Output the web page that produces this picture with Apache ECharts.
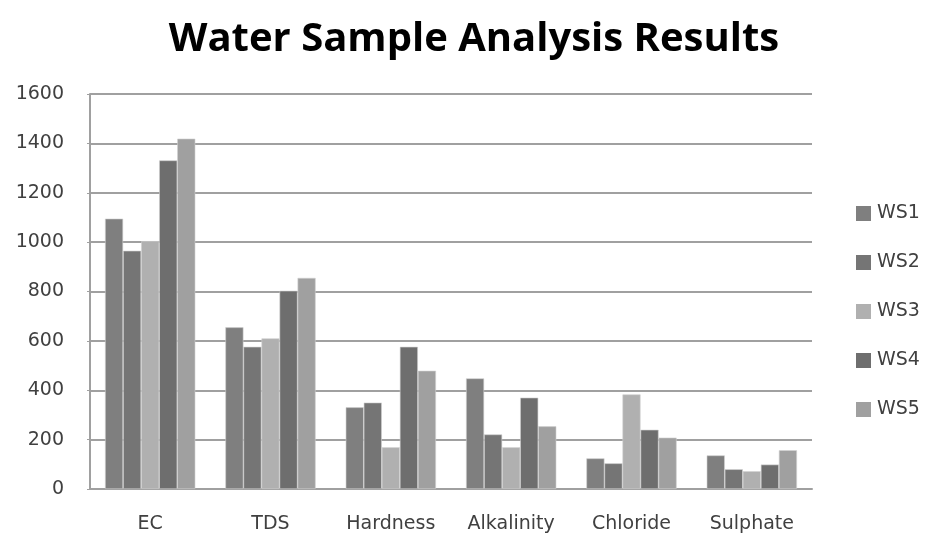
<!DOCTYPE html>
<html>
<head>
<meta charset="utf-8">
<script src="https://cdn.jsdelivr.net/npm/echarts@6/dist/echarts.min.js"></script>
<style>
  html, body { margin: 0; padding: 0; background: #ffffff; }
  #chart { width: 929px; height: 535px; }
</style>
</head>
<body>
<div id="chart"></div>
<script>
// Parameters measured for each water sample
const categories = ['EC', 'TDS', 'Hardness', 'Alkalinity', 'Chloride', 'Sulphate'];
const ws1 = [1095, 655, 331, 448, 124, 136];
const ws2 = [965, 576, 350, 221, 104, 80];
const ws3 = [1004, 610, 169, 169, 383, 72];
const ws4 = [1331, 803, 576, 370, 240, 99];
const ws5 = [1419, 855, 479, 254, 208, 157];
const sampleNames = ['WS1', 'WS2', 'WS3', 'WS4', 'WS5'];
const yTicks = [0, 200, 400, 600, 800, 1000, 1200, 1400, 1600];

const seriesData = [ws1, ws2, ws3, ws4, ws5];
const colors = ['#7f7f7f', '#757575', '#b0b0b0', '#6e6e6e', '#a0a0a0'];
const labelFont = 'DejaVu Sans';

const chart = echarts.init(document.getElementById('chart'), null, { renderer: 'canvas' });

chart.setOption({
  animation: false,
  backgroundColor: '#ffffff',
  title: {
    text: 'Water Sample Analysis Results',
    left: 469,
    textAlign: 'center',
    top: 15,
    textStyle: { fontFamily: 'Open Sans', fontWeight: 'bold', fontSize: 40, color: '#000000' }
  },
  legend: {
    orient: 'vertical',
    left: 851,
    top: 199,
    itemWidth: 15,
    itemHeight: 15,
    itemGap: 30,
    icon: 'rect',
    itemStyle: { borderWidth: 0 },
    data: sampleNames,
    textStyle: { fontFamily: labelFont, fontSize: 19, color: '#404040', padding: [0, 0, 0, 1] }
  },
  grid: { left: 90, right: 117, top: 94, bottom: 46, containLabel: false },
  xAxis: {
    type: 'category',
    data: categories,
    axisLine: { show: true, lineStyle: { color: '#a0a0a0', width: 2 } },
    axisTick: { show: false },
    axisLabel: { interval: 0, fontFamily: labelFont, fontSize: 19, color: '#404040', margin: 26 }
  },
  yAxis: {
    type: 'value',
    min: yTicks[0],
    max: yTicks[yTicks.length - 1],
    interval: 200,
    axisLine: { show: true, lineStyle: { color: '#a0a0a0', width: 2 } },
    axisTick: { show: true, length: 3, lineStyle: { color: '#a0a0a0' } },
    splitLine: { show: true, lineStyle: { color: '#a0a0a0', width: 2 } },
    axisLabel: {
      fontFamily: labelFont, fontSize: 19, color: '#404040', margin: 26,
      formatter: (v) => String(v)
    }
  },
  series: sampleNames.map((name, i) => ({
    name: name,
    type: 'bar',
    data: seriesData[i],
    barGap: '0%',
    barCategoryGap: '25%',
    itemStyle: { color: colors[i], borderColor: '#d0d0d0', borderWidth: 0.6 }
  }))
});
</script>
</body>
</html>
